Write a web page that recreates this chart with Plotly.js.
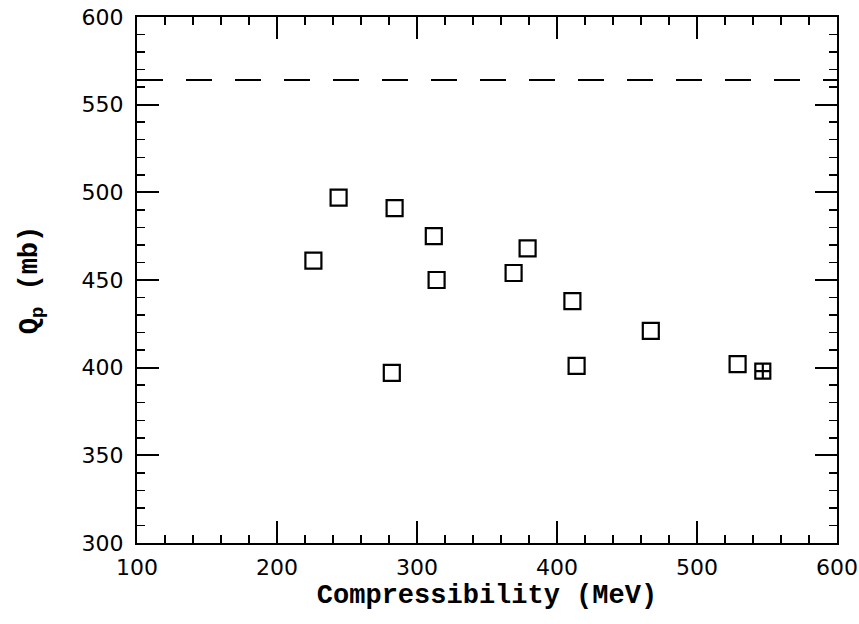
<!DOCTYPE html>
<html>
<head>
<meta charset="utf-8">
<script src="https://cdn.plot.ly/plotly-3.0.1.min.js"></script>
<style>html,body{margin:0;padding:0;background:#fff;}#chart{width:859px;height:624px;}</style>
</head>
<body>
<div id="chart"></div>
<script>
// Data
const compressibility = [226, 244, 284, 282, 312, 314, 369, 379, 411, 414, 467, 529];
const qp = [461, 497, 491, 397, 475, 450, 454, 468, 438, 401, 421, 402];
const crossedX = [547];
const crossedY = [398];
const refLineX = [100, 600];
const refLineY = [564, 564];

const axisFont = {family: 'DejaVu Sans, sans-serif', size: 22, color: '#000'};
const titleFont = {family: 'Liberation Mono, Courier New, monospace', size: 27, color: '#000', weight: 'bold'};

const traces = [
  {x: refLineX, y: refLineY, mode: 'lines', line: {color: '#000', width: 2, dash: '26px,23px'}, hoverinfo: 'skip', showlegend: false},
  {x: compressibility, y: qp, mode: 'markers', marker: {symbol: 'square-open', size: 16, color: '#000', line: {width: 2.2, color: '#000'}}, showlegend: false},
  {x: crossedX, y: crossedY, mode: 'markers', marker: {symbol: 'square-cross-open', size: 15, color: '#000', line: {width: 2.2, color: '#000'}}, showlegend: false}
];

const layout = {
  width: 859, height: 624,
  margin: {l: 137, r: 22, t: 17, b: 81},
  paper_bgcolor: '#fff', plot_bgcolor: '#fff',
  showlegend: false,
  xaxis: {
    range: [100, 600], dtick: 100, tick0: 100,
    ticks: 'inside', ticklen: 22, tickwidth: 1.8, tickcolor: '#000',
    minor: {dtick: 20, ticks: 'inside', ticklen: 8, tickwidth: 1.5, tickcolor: '#000'},
    showline: true, linecolor: '#000', linewidth: 2.2, mirror: 'allticks',
    showgrid: false, zeroline: false,
    tickfont: axisFont, ticklabelstandoff: 3,
    title: {text: 'Compressibility (MeV)', font: titleFont, standoff: 6}
  },
  yaxis: {
    range: [300, 600], dtick: 50, tick0: 300,
    ticks: 'inside', ticklen: 22, tickwidth: 1.8, tickcolor: '#000',
    minor: {dtick: 10, ticks: 'inside', ticklen: 8, tickwidth: 1.5, tickcolor: '#000'},
    showline: true, linecolor: '#000', linewidth: 2.2, mirror: 'allticks',
    showgrid: false, zeroline: false,
    tickfont: axisFont, ticklabelstandoff: 7,
    title: {text: 'Q<sub>p</sub> (mb)', font: titleFont, standoff: 36}
  }
};

Plotly.newPlot('chart', traces, layout, {displayModeBar: false, staticPlot: true});
</script>
</body>
</html>
